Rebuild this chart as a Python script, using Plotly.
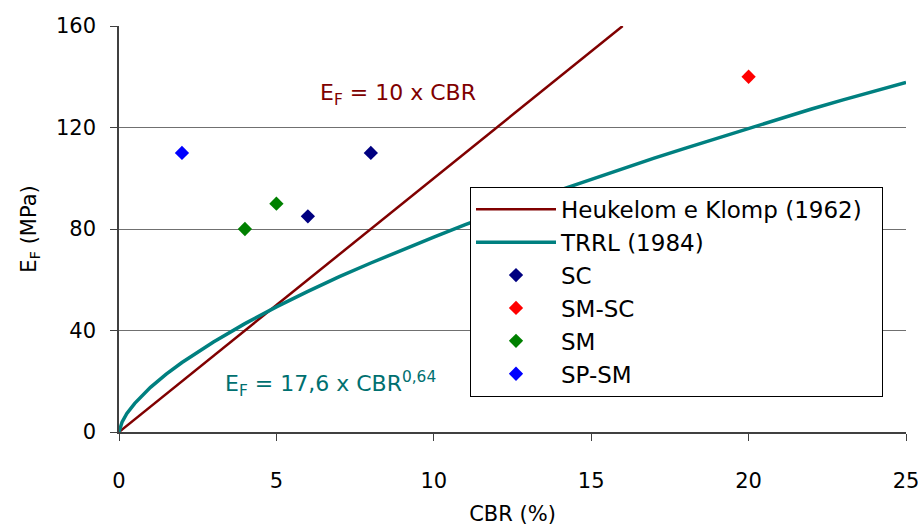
import plotly.graph_objects as go

# Heukelom e Klomp (1962): E_F = 10 x CBR
hk_x = [0, 16]
hk_y = [0, 160]

# TRRL (1984) curve
trrl_x = [0, 0.1, 0.25, 0.5, 1, 1.5, 2, 3, 4, 5, 6, 7, 8, 9, 10, 11, 12, 13, 14,
          15, 16, 17, 18, 19, 20, 21, 22, 23, 24, 25]
trrl_y = [0, 4.0, 7.3, 11.3, 17.6, 22.8, 27.4, 35.5, 42.7, 49.3, 55.4, 61.2, 66.6,
          71.8, 76.8, 81.7, 86.4, 90.9, 95.3, 99.6, 103.8, 107.9, 111.9, 115.8,
          119.7, 123.5, 127.3, 130.9, 134.5, 137.8]

sc_x = [6, 8]
sc_y = [85, 110]
smsc_x = [20]
smsc_y = [140]
sm_x = [4, 5]
sm_y = [80, 90]
spsm_x = [2]
spsm_y = [110]

FONT = "DejaVu Sans"
PAD = "\u00a0\u00a0"

fig = go.Figure()
fig.add_trace(go.Scatter(x=hk_x, y=hk_y, mode="lines", name="Heukelom e Klomp (1962)" + PAD,
                         line=dict(color="#800000", width=2.5), legendgroup="a"))
fig.add_trace(go.Scatter(x=trrl_x, y=trrl_y, mode="lines", name="TRRL (1984)",
                         line=dict(color="#008080", width=3.5), legendgroup="b"))
for nm, xs, ys, col, g in [("SC", sc_x, sc_y, "#000080", "c"),
                           ("SM-SC", smsc_x, smsc_y, "#FF0000", "d"),
                           ("SM", sm_x, sm_y, "#008000", "e"),
                           ("SP-SM", spsm_x, spsm_y, "#0000FF", "f")]:
    fig.add_trace(go.Scatter(x=xs, y=ys, mode="markers", name=nm, legendgroup=g,
                             marker=dict(symbol="diamond", size=11, color=col)))

fig.add_annotation(x=8.86, y=133, xref="x", yref="y", text="E<sub>F</sub> = 10 x CBR",
                   showarrow=False, font=dict(color="#800000", size=22, family=FONT))
fig.add_annotation(x=6.73, y=19, xref="x", yref="y",
                   text="E<sub>F</sub> = 17,6 x CBR<sup>0,64</sup>",
                   showarrow=False, font=dict(color="#007070", size=22, family=FONT))

fig.update_layout(
    width=918, height=527,
    margin=dict(l=119, r=12, t=26, b=95),
    paper_bgcolor="white", plot_bgcolor="white",
    font=dict(family=FONT, size=21, color="black"),
    showlegend=True,
    legend=dict(x=0.446, y=0.604, xanchor="left", yanchor="top",
                bordercolor="black", borderwidth=1, bgcolor="white",
                font=dict(size=23, family=FONT), tracegroupgap=0,
                traceorder="grouped", itemwidth=80),
    xaxis=dict(range=[0, 25], tickvals=[0, 5, 10, 15, 20, 25], showgrid=False,
               zeroline=False, showline=True, linecolor="#404040", linewidth=1.5,
               ticks="outside", ticklen=7, tickcolor="#404040", automargin=False,
               ticklabelstandoff=22, ticklabeloverflow="allow",
               title=dict(text="CBR (%)", standoff=14, font=dict(size=21)),
               fixedrange=True),
    yaxis=dict(range=[0, 160], tickvals=[0, 40, 80, 120, 160], showgrid=True,
               gridcolor="#707070", gridwidth=1, zeroline=False, showline=True,
               linecolor="#404040", linewidth=1.5, ticks="outside", ticklen=7,
               tickcolor="#404040", automargin=False, ticklabelstandoff=10,
               ticklabeloverflow="allow",
               title=dict(text="E<sub>F</sub> (MPa)", standoff=14, font=dict(size=21)),
               fixedrange=True),
)

fig.write_html("out.html", config={"displayModeBar": False},
               post_script="document.body.style.margin='0';")
